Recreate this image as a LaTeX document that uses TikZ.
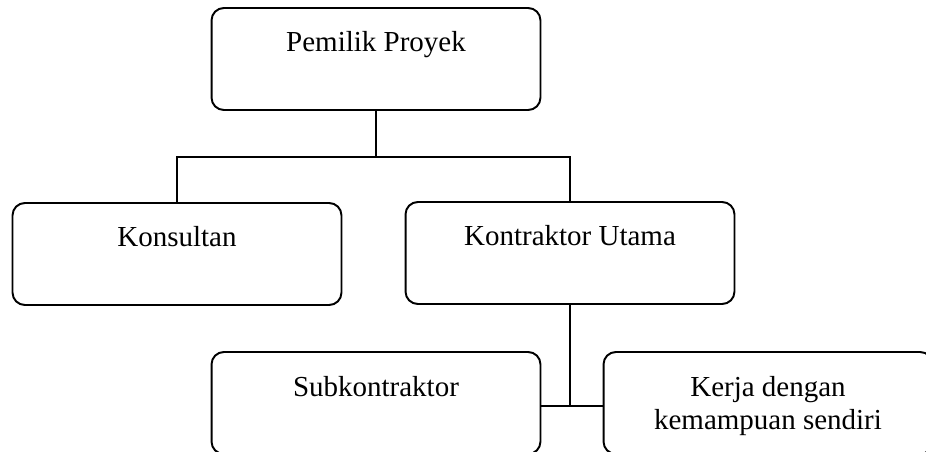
\documentclass[tikz,border=0pt]{standalone}
\usepackage{fontspec}
\setmainfont{Liberation Serif}
\begin{document}
\begin{tikzpicture}[x=0.02cm, y=-0.02cm, line width=1.1pt,
                    every node/.style={draw, rounded corners=7pt, minimum width=6.58cm, minimum height=2.04cm,
                                       inner ysep=0pt, text height=0.88cm, text depth=1.16cm, align=center,
                                       font=\fontsize{16.5}{19}\selectfont}]
                    \clip (0,0) rectangle (926,452);
                    \node (pemilik) at (376, 59) {Pemilik Proyek};
                    \node (konsultan) at (177, 254) {Konsultan};
                    \node (kontraktor) at (570, 253) {Kontraktor Utama};
                    \node (subkon) at (376, 403) {Subkontraktor};
                    \node[text height=1.56cm, text depth=0.48cm] (sendiri) at (768, 403) {Kerja dengan\\kemampuan sendiri};
                    \draw (pemilik.south) -- ++(0, 46) coordinate (cabang);
                    \draw (cabang) -| (konsultan.north);
                    \draw (cabang) -| (kontraktor.north);
                    \draw (kontraktor.south) -- ([yshift=-1.5pt]kontraktor.south |- subkon.east);
                    \draw ([yshift=-1.5pt]subkon.east) -- ([yshift=-1.5pt]sendiri.west);
                \end{tikzpicture}
\end{document}
